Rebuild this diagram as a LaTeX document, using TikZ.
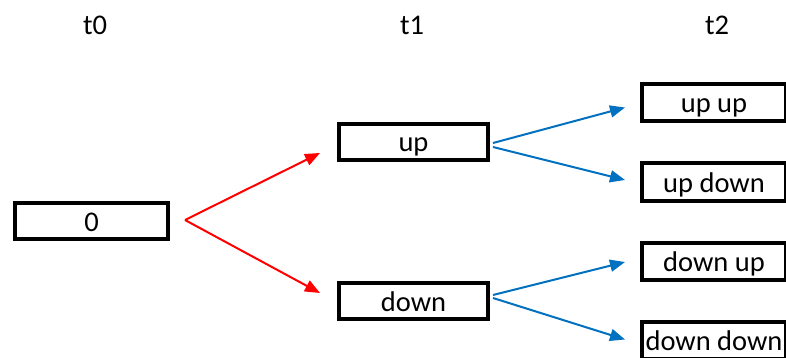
\documentclass[tikz,border=0pt]{standalone}
\usepackage{fontspec}
\setmainfont{Carlito}
\usepackage{tikz}
\usetikzlibrary{calc,arrows.meta,positioning}
\definecolor{uparrow}{HTML}{FF0000}
\definecolor{branch}{HTML}{0070C0}
\tikzset{
    statebox/.style={
        draw,
        line width=4pt,
        rectangle,
        inner sep=0pt,
        text height=20pt,
        text depth=0pt,
        minimum width=149pt,
        minimum height=36pt,
        font=\fontsize{28.5}{34}\selectfont
    },
    leafbox/.style={
        statebox,
        minimum width=144pt,
        minimum height=37pt
    },
    timelabel/.style={
        font=\fontsize{28.5}{34}\selectfont
    },
    move/.style={
        -{Triangle[length=15pt,width=12pt]},
        line width=2pt
    }
}

\begin{document}
\begin{tikzpicture}[x=1pt,y=-1pt]

    \useasboundingbox (0,0) rectangle (786,358);

    % Times
    \node[timelabel] (tzero) at (95,25) {t0};
    \node[timelabel] (tone) at (412,25) {t1};
    \node[timelabel] (ttwo) at (717,25) {t2};

    % States
    \node[statebox,minimum width=153pt] (zero) at (91.5,221) {0};
    \node[statebox] (up) at (413.5,142) {up};
    \node[statebox] (down) at (413.5,301) {down};

    \node[leafbox] (upup) at (714,102.5) {up up};
    \node[leafbox] (updown) at (714,182) {up down};
    \node[leafbox] (downup) at (714,261) {down up};
    \node[leafbox] (downdown) at (714,340.5) {down down};

    % Free ends
    \coordinate (zs) at ($(zero.east)+(15,-1)$);
    \coordinate (upin) at ($(up.west)+(-17,11)$);
    \coordinate (downin) at ($(down.west)+(-17,-8)$);

    \coordinate (us1) at ($(up.east)+(3,1)$);
    \coordinate (us2) at ($(up.east)+(3,5)$);
    \coordinate (ds1) at ($(down.east)+(3,-6)$);
    \coordinate (ds2) at ($(down.east)+(3,-3)$);

    \coordinate (uuin) at ($(upup.west)+(-15,5)$);
    \coordinate (udin) at ($(updown.west)+(-15,-2)$);
    \coordinate (duin) at ($(downup.west)+(-15,1)$);
    \coordinate (ddin) at ($(downdown.west)+(-15,-1)$);

    % Red moves
    \draw[move,uparrow] (zs) -- (upin);
    \draw[move,uparrow] (zs) -- (downin);

    % Blue moves
    \draw[move,branch] (us1) -- (uuin);
    \draw[move,branch] (us2) -- (udin);
    \draw[move,branch] (ds1) -- (duin);
    \draw[move,branch] (ds2) -- (ddin);

\end{tikzpicture}
\end{document}
